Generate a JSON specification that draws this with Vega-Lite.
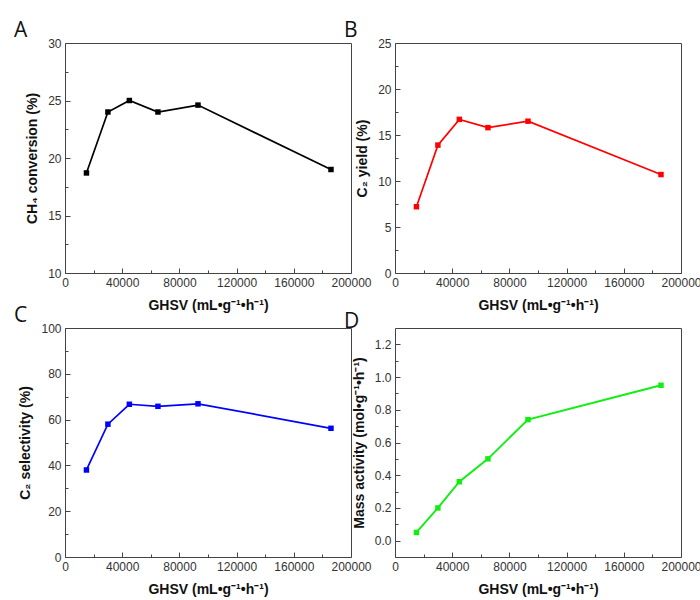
{
  "$schema": "https://vega.github.io/schema/vega-lite/v6.json",
  "background": "white",
  "padding": {"left": 13, "top": 19, "right": 5, "bottom": 5},
  "spacing": {"row": 55, "column": 44},
  "bounds": "flush",
  "columns": 2,
  "config": {
    "view": {"stroke": "#444", "strokeWidth": 1},
    "font": "Liberation Sans",
    "axis": {
      "grid": false,
      "domain": false,
      "tickColor": "#444",
      "labelFont": "Liberation Sans",
      "labelFontSize": 12,
      "labelColor": "#333",
      "titleFont": "Liberation Sans",
      "titleFontSize": 14,
      "titleFontWeight": "bold",
      "titleColor": "#111",
      "labelPadding": 9,
      "titlePadding": 8
    },
    "axisX": {
      "values": [0, 20000, 40000, 60000, 80000, 100000, 120000, 140000, 160000, 180000, 200000],
      "labelExpr": "datum.value % 40000 === 0 ? datum.label : ''",
      "format": "d",
      "labelFlush": false,
      "labelOverlap": false,
      "tickSize": {"condition": {"test": "datum.value % 40000 === 0", "value": -5}, "value": -3},
      "titlePadding": 8
    },
    "title": {"font": "Open Sans", "fontSize": 21, "fontWeight": "normal", "anchor": "start", "frame": "group", "dx": -51, "offset": -4, "color": "#111"}
  },
  "concat": [
    {
      "title": "A",
      "width": 286,
      "height": 230,
      "data": {"values": [
        {"ghsv": 15000, "v": 18.7}, {"ghsv": 30000, "v": 24.0}, {"ghsv": 45000, "v": 25.0},
        {"ghsv": 65000, "v": 24.0}, {"ghsv": 93000, "v": 24.6}, {"ghsv": 186000, "v": 19.0}
      ]},
      "mark": {"type": "line", "color": "#000000", "strokeWidth": 1.7, "point": {"shape": "square", "size": 30, "filled": true, "color": "#000000"}},
      "encoding": {
        "x": {"field": "ghsv", "type": "quantitative", "scale": {"domain": [0, 200000], "nice": false}, "title": "GHSV (mL•g⁻¹•h⁻¹)"},
        "y": {"field": "v", "type": "quantitative", "scale": {"domain": [10, 30], "nice": false}, "title": "CH₄ conversion (%)",
          "axis": {"values": [10, 12.5, 15, 17.5, 20, 22.5, 25, 27.5, 30], "labelExpr": "datum.value % 5 === 0 ? datum.label : ''",
            "tickSize": {"condition": {"test": "datum.value % 5 === 0", "value": -5}, "value": -3}}}
      }
    },
    {
      "title": "B",
      "width": 286,
      "height": 230,
      "data": {"values": [
        {"ghsv": 15000, "v": 7.2}, {"ghsv": 30000, "v": 13.9}, {"ghsv": 45000, "v": 16.7},
        {"ghsv": 65000, "v": 15.8}, {"ghsv": 93000, "v": 16.5}, {"ghsv": 186000, "v": 10.7}
      ]},
      "mark": {"type": "line", "color": "#ff0000", "strokeWidth": 1.7, "point": {"shape": "square", "size": 30, "filled": true, "color": "#ff0000"}},
      "encoding": {
        "x": {"field": "ghsv", "type": "quantitative", "scale": {"domain": [0, 200000], "nice": false}, "title": "GHSV (mL•g⁻¹•h⁻¹)"},
        "y": {"field": "v", "type": "quantitative", "scale": {"domain": [0, 25], "nice": false}, "title": "C₂ yield (%)",
          "axis": {"values": [0, 2.5, 5, 7.5, 10, 12.5, 15, 17.5, 20, 22.5, 25], "labelExpr": "datum.value % 5 === 0 ? datum.label : ''",
            "tickSize": {"condition": {"test": "datum.value % 5 === 0", "value": -5}, "value": -3}}}
      }
    },
    {
      "title": "C",
      "width": 286,
      "height": 229,
      "data": {"values": [
        {"ghsv": 15000, "v": 38.0}, {"ghsv": 30000, "v": 58.0}, {"ghsv": 45000, "v": 66.7},
        {"ghsv": 65000, "v": 65.8}, {"ghsv": 93000, "v": 66.9}, {"ghsv": 186000, "v": 56.2}
      ]},
      "mark": {"type": "line", "color": "#0000ff", "strokeWidth": 1.7, "point": {"shape": "square", "size": 30, "filled": true, "color": "#0000ff"}},
      "encoding": {
        "x": {"field": "ghsv", "type": "quantitative", "scale": {"domain": [0, 200000], "nice": false}, "title": "GHSV (mL•g⁻¹•h⁻¹)"},
        "y": {"field": "v", "type": "quantitative", "scale": {"domain": [0, 100], "nice": false}, "title": "C₂ selectivity (%)",
          "axis": {"values": [0, 10, 20, 30, 40, 50, 60, 70, 80, 90, 100], "labelExpr": "datum.value % 20 === 0 ? datum.label : ''",
            "tickSize": {"condition": {"test": "datum.value % 20 === 0", "value": -5}, "value": -3}}}
      }
    },
    {
      "title": "D",
      "width": 286,
      "height": 229,
      "data": {"values": [
        {"ghsv": 15000, "v": 0.05}, {"ghsv": 30000, "v": 0.2}, {"ghsv": 45000, "v": 0.36},
        {"ghsv": 65000, "v": 0.5}, {"ghsv": 93000, "v": 0.74}, {"ghsv": 186000, "v": 0.95}
      ]},
      "mark": {"type": "line", "color": "#11ee11", "strokeWidth": 1.9, "point": {"shape": "square", "size": 30, "filled": true, "color": "#11ee11"}},
      "encoding": {
        "x": {"field": "ghsv", "type": "quantitative", "scale": {"domain": [0, 200000], "nice": false}, "title": "GHSV (mL•g⁻¹•h⁻¹)"},
        "y": {"field": "v", "type": "quantitative", "scale": {"domain": [-0.1, 1.3], "nice": false, "zero": false}, "title": "Mass activity (mol•g⁻¹•h⁻¹)",
          "axis": {"values": [0, 0.1, 0.2, 0.3, 0.4, 0.5, 0.6, 0.7, 0.8, 0.9, 1.0, 1.1, 1.2], "format": ".1f",
            "labelExpr": "round(datum.value * 10) % 2 === 0 ? datum.label : ''",
            "tickSize": {"condition": {"test": "round(datum.value * 10) % 2 === 0", "value": -5}, "value": -3}}}
      }
    }
  ]
}
